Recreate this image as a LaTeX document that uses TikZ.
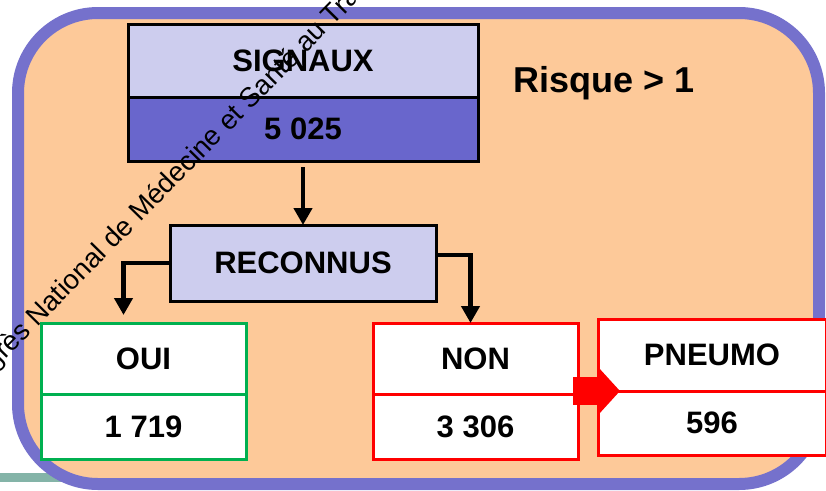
\documentclass[tikz,border=0pt]{standalone}
\usepackage{fontspec}
\setmainfont{Liberation Sans}
\usepackage{tikz}
\usetikzlibrary{arrows.meta}

\definecolor{peach}{HTML}{FDC999}
\definecolor{frameblue}{HTML}{7571CC}
\definecolor{lavender}{HTML}{CDCDEE}
\definecolor{darklav}{HTML}{6966CC}
\definecolor{okgreen}{HTML}{00B050}
\definecolor{lineteal}{HTML}{84B4A8}

\tikzset{
  box/.style={draw, line width=3pt, outer sep=0pt, inner sep=0pt,
    font=\fontsize{31}{36}\selectfont\bfseries},
  headbox/.style={box, draw=black, fill=lavender},
  countbox/.style={box, draw=black, fill=darklav},
  yesbox/.style={box, draw=okgreen, fill=white, minimum width=205},
  nobox/.style={box, draw=red, fill=white, minimum width=205},
  conn/.style={line width=4.5pt, -{Triangle[width=18pt,length=17pt]}},
  blockarrow/.style={red, line width=28pt, -{Triangle[width=49pt,length=23pt]}},
}

\begin{document}
\begin{tikzpicture}[x=1pt, y=-1pt]

\useasboundingbox (0,0) rectangle (826,490);
\clip (0,0) rectangle (826,490);

% background strip and frame
\draw [lineteal, line width=9pt] (0,477) -- (70,477);
\draw [frameblue, fill=peach, line width=12pt, rounded corners=80pt] (18,13) rectangle (819,484);

% top box
\node [headbox, minimum width=350, minimum height=73] (sig) at (303,60.5) {SIGNAUX};
\node [countbox, minimum width=350, minimum height=64] (sigval) at (303,129) {5 025};

\node [anchor=base west, font=\fontsize{36}{42}\selectfont\bfseries] (risk) at (510,92) {Risque > 1};

% middle box
\node [headbox, minimum width=266, minimum height=76] (rec) at (303,263) {RECONNUS};

% bottom boxes
\node [yesbox, minimum height=71] (oui) at (143.5,358.5) {OUI};
\node [yesbox, minimum height=65] (ouival) at (143.5,426.5) {1 719};

\node [nobox, minimum height=71] (non) at (475.5,358.5) {NON};
\node [nobox, minimum height=65] (nonval) at (475.5,426.5) {3 306};

\node [nobox, minimum width=228, minimum height=72] (pn) at (712,355) {PNEUMO};
\node [nobox, minimum width=228, minimum height=64] (pnval) at (712,423) {596};

% connectors
\draw [conn, shorten <=6pt] (sigval) -- (rec);
\draw [conn, shorten >=8pt] (rec.west) -| ([xshift=-20pt]oui.north);
\draw [conn] ([yshift=8pt]rec.east) -| ([xshift=-5pt]non.north);

\coordinate (bstart) at ([xshift=-5pt]nonval.north east |- pnval.north);
\draw [blockarrow] (bstart) -- ([xshift=22pt]pnval.north west);

% stamp across the slide
\node [rotate=45.5, anchor=base west, inner sep=0pt, font=\fontsize{27.5}{32}\selectfont] (stamp) at (-41,407) {Congrès National de Médecine et Santé au Travail};

\end{tikzpicture}
\end{document}
